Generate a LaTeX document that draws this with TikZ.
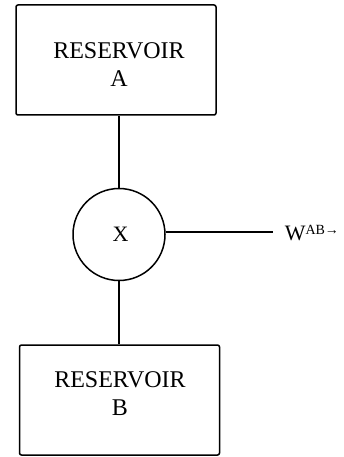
\documentclass[tikz,border=0pt]{standalone}
\usepackage{fontspec}
\setmainfont{Liberation Serif}
\begin{document}
\begin{tikzpicture}[x=1pt,y=-1pt,
  line width=1.5pt,
  tank/.style={draw, rounded corners=2pt, minimum width=200pt, minimum height=110pt, inner sep=0pt},
  machine/.style={draw, circle, minimum size=92pt, inner sep=0pt},
  tanktext/.style={align=center, font=\fontsize{24}{28}\selectfont, inner sep=0pt},
  wire/.style={line width=1.6pt}]
  \useasboundingbox (0,0) rectangle (344,457);
  % reservoirs
  \node[tank] (A) at (116,60) {};
  \node[tanktext] (Atext) at (119,65) {RESERVOIR\\A};
  \node[tank] (B) at (119.5,400) {};
  \node[tanktext] (Btext) at (120,393.5) {RESERVOIR\\B};
  % engine
  \node[machine] (X) at (119,234.5) {};
  \node[font=\fontsize{22}{24}\selectfont, inner sep=0pt] (Xtext) at (120.5,234) {X};
  % connections
  \draw[wire] (X.north) -- (X.north |- A.south);
  \draw[wire] (X.south) -- (X.south |- B.north);
  \coordinate (wend) at (273,232);
  \draw[wire] (X.east |- wend) -- (wend);
  \node[anchor=base west, inner sep=0pt, font=\fontsize{22}{24}\selectfont] (W) at (284,240)
    {W\raisebox{6pt}{\fontsize{14}{14}\selectfont AB→}};
\end{tikzpicture}
\end{document}
